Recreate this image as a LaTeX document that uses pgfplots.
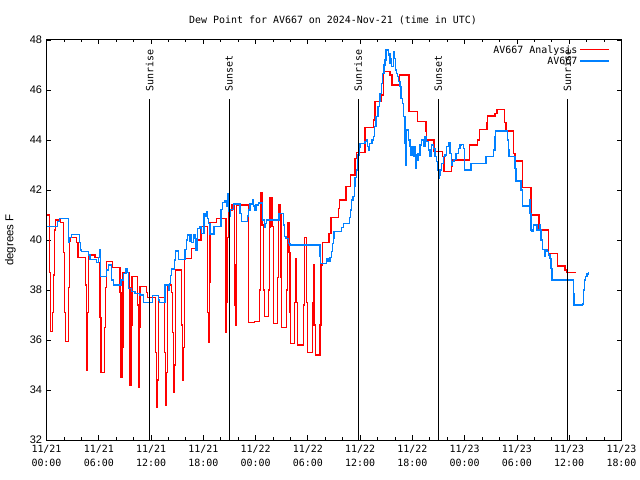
\documentclass[border=0pt]{standalone}
\usepackage{fontspec}
\setmainfont{DejaVu Sans Mono}
\newfontfamily\sansf{Liberation Sans}
\usepackage{pgfplots}
\pgfplotsset{compat=1.18}
\definecolor{anared}{RGB}{255,0,0}
\definecolor{obsblue}{RGB}{0,128,255}
\begin{document}
\begin{tikzpicture}
\path[use as bounding box] (0,0) rectangle (640bp,480bp);
\begin{axis}[
  at={(46.5bp,40bp)}, anchor=south west,
  scale only axis, width=575bp, height=400bp,
  xmin=0, xmax=66, ymin=32, ymax=48,
  xtick={0,6,...,66},
  xticklabels={11/21\\00:00,11/21\\06:00,11/21\\12:00,11/21\\18:00,11/22\\00:00,11/22\\06:00,11/22\\12:00,11/22\\18:00,11/23\\00:00,11/23\\06:00,11/23\\12:00,11/23\\18:00},
  minor x tick num=2,
  ytick={32,34,...,48},
  tick align=inside,
  major tick length=4.5bp, minor tick length=2.5bp,
  every tick/.style={black, line width=0.8bp},
  axis line style={black, line width=1bp},
  xticklabel style={align=center, font=\fontsize{10}{13.5}\selectfont, yshift=-2bp},
  yticklabel style={font=\sansf\fontsize{11}{13}\selectfont, xshift=-1bp},
  /pgf/number format/assume math mode=true,
  legend plot pos=right,
  legend cell align=right,
  legend style={at={(0.98,0.992)}, anchor=north east, draw=none, fill=none,
    font=\fontsize{10}{12}\selectfont, row sep=-1.5bp, inner sep=0bp},
  legend image code/.code={\draw[#1] (7bp,0.5bp) -- (36bp,0.5bp);},
]
\addplot[anared, line width=1.4bp, const plot] coordinates {
(0,41.0) (0.32,38.7) (0.44,36.35) (0.67,37.1) (0.78,38.6) (0.9,40.4) (1.01,40.8) (1.6,40.7)
(1.93,39.5) (2.05,37.1) (2.16,35.95) (2.5,38.1) (2.62,39.95) (2.78,40.1) (3.46,39.9) (3.62,39.3)
(4.5,38.2) (4.61,34.8) (4.72,37.1) (4.84,39.4) (5.57,39.3) (5.95,39.1) (6.14,36.9) (6.26,34.7)
(6.64,36.5) (6.76,38.1) (6.91,39.15) (7.6,38.9) (8.44,37.9) (8.55,34.5) (8.67,35.7) (8.78,38.7)
(9.51,38.1) (9.59,34.2) (9.74,36.6) (9.82,38.55) (10.47,37.4) (10.58,34.1) (10.66,36.5) (10.73,38.15)
(11.5,37.9) (11.6,37.7) (12.53,35.5) (12.65,33.3) (12.76,34.4) (12.84,37.7) (13.53,35.5) (13.64,33.4)
(13.76,34.7) (13.87,38.2) (14.37,37.9) (14.49,36.3) (14.6,33.9) (14.68,35.0) (14.79,38.8) (15.52,36.6)
(15.6,34.4) (15.71,35.7) (15.82,39.25) (16.67,39.65) (17.24,40.0) (17.74,40.55) (18.5,37.1) (18.62,35.9)
(18.69,38.3) (18.77,40.7) (19.54,40.85) (20.61,36.3) (20.69,37.5) (20.8,40.1) (20.88,41.2) (21.3,41.4)
(21.56,37.4) (21.68,36.6) (21.76,39.0) (21.84,41.4) (23.21,36.7) (23.86,36.75) (24.43,38.0) (24.55,40.6)
(24.63,41.9) (24.82,40.6) (24.89,38.0) (25.01,36.95) (25.51,38.0) (25.58,40.5) (25.66,41.7) (25.89,40.55)
(26.04,36.65) (26.54,38.5) (26.62,41.4) (26.81,41.05) (26.92,38.5) (27.0,36.5) (27.58,38.0) (27.69,40.7)
(27.84,39.5) (27.96,37.1) (28.03,35.85) (28.45,37.5) (28.61,39.25) (28.68,37.5) (28.84,35.8) (29.49,37.4)
(29.6,40.1) (29.87,37.5) (29.99,35.5) (30.52,37.5) (30.63,39.0) (30.71,36.6) (30.86,35.4) (31.4,36.6)
(31.52,39.0) (31.67,39.9) (32.43,40.25) (32.66,40.9) (33.5,41.25) (33.62,41.6) (34.4,42.15) (34.9,42.6)
(35.42,43.27) (35.61,43.5) (36.57,44.5) (37.52,44.8) (37.72,45.55) (38.48,45.8) (38.67,46.73) (39.44,46.6)
(39.67,46.2) (40.51,46.6) (41.62,45.15) (42.57,44.75) (43.57,44.35) (43.65,44.0) (44.5,43.55) (45.45,43.33)
(45.64,42.75) (46.52,42.93) (46.63,43.2) (48.54,43.8) (49.46,44.0) (49.69,44.43) (50.54,44.7) (50.61,44.96)
(51.49,45.07) (51.69,45.23) (52.56,44.7) (52.76,44.36) (53.6,43.47) (53.79,43.16) (54.63,42.1) (55.63,41.0)
(56.54,40.4) (57.61,39.47) (58.64,38.96) (59.53,38.8) (59.72,38.7) (60.76,38.7)
};
\addlegendentry{AV667 Analysis}
\addplot[obsblue, line width=1.4bp, const plot] coordinates {
(0,40.55) (1.24,40.75) (1.47,40.87) (2.5,39.9) (2.62,40.1) (2.89,40.23) (3.77,39.9) (3.92,39.6)
(4.0,39.53) (4.8,39.4) (4.99,39.23) (5.76,39.1) (6.0,39.3) (6.07,39.6) (6.22,38.53) (6.91,38.8)
(7.1,39.0) (7.48,38.4) (7.67,38.2) (8.55,38.4) (8.82,38.67) (9.13,38.85) (9.3,38.7) (9.4,38.07)
(9.78,37.95) (10.16,37.87) (10.73,37.8) (11.12,37.5) (12.19,37.77) (12.84,37.6) (12.95,37.5) (13.6,38.2)
(13.99,38.0) (14.1,38.25) (14.26,38.57) (14.37,38.84) (14.68,39.2) (14.79,39.56) (15.05,39.56) (15.14,39.23)
(15.9,39.63) (16.1,40.0) (16.21,40.2) (16.4,39.95) (16.55,40.2) (16.67,39.9) (16.85,40.2) (17.05,40.07)
(17.16,39.6) (17.32,40.47) (17.6,40.53) (17.82,40.27) (18.08,41.07) (18.2,40.93) (18.39,41.13) (18.5,40.87)
(18.58,40.67) (18.77,40.24) (19.23,40.53) (20.03,41.23) (20.22,41.49) (20.49,41.57) (20.7,41.36) (20.8,41.84)
(20.92,41.13) (21.0,40.96) (21.07,41.23) (21.45,41.44) (22.2,41.07) (22.35,40.75) (23.05,40.96) (23.2,41.2)
(23.36,41.44) (23.63,41.63) (23.75,41.36) (23.86,41.2) (24.05,41.4) (24.32,41.48) (24.82,40.8) (25.01,40.51)
(25.15,40.67) (25.28,40.8) (26.69,41.07) (27.19,40.6) (27.31,40.13) (27.5,40.07) (27.77,39.87) (27.96,39.8)
(31.4,39.33) (31.48,39.07) (32.17,39.27) (32.3,39.13) (32.55,39.31) (32.74,39.53) (32.86,39.87) (32.93,40.07)
(33.01,40.33) (33.89,40.5) (34.08,40.67) (34.77,40.9) (34.92,41.2) (35.04,41.6) (35.2,41.75) (35.35,42.13)
(35.42,42.5) (35.61,42.8) (35.73,43.4) (35.85,43.7) (36.0,43.87) (36.57,43.93) (36.7,44.0) (36.85,43.73)
(36.96,43.6) (37.1,43.87) (37.34,44.0) (37.5,44.13) (37.64,44.53) (37.8,44.93) (38.03,45.33) (38.22,45.53)
(38.3,45.87) (38.48,46.27) (38.6,46.67) (38.75,47.0) (38.87,47.2) (38.98,47.6) (39.14,47.63) (39.25,47.4)
(39.35,47.47) (39.44,47.07) (39.52,47.27) (39.63,46.93) (39.82,47.53) (39.93,47.27) (40.05,46.8) (40.2,46.67)
(40.3,46.53) (40.43,46.33) (40.59,46.13) (40.7,45.67) (40.88,45.47) (40.97,44.93) (41.16,43.87) (41.27,43.0)
(41.35,44.4) (41.53,44.0) (41.73,43.73) (41.85,43.4) (41.95,43.73) (42.11,43.33) (42.22,43.73) (42.33,43.4)
(42.42,42.87) (42.5,43.2) (42.62,43.47) (42.73,43.4) (42.88,43.8) (43.07,44.0) (43.27,43.73) (43.46,44.13)
(43.65,43.93) (43.84,43.6) (44.03,43.33) (44.22,43.8) (44.41,43.67) (44.6,43.33) (44.79,43.13) (44.87,42.8)
(44.98,42.47) (45.1,42.6) (45.17,42.8) (45.36,43.07) (45.55,43.33) (45.75,43.4) (45.94,43.73) (46.13,43.9)
(46.32,43.47) (46.51,43.0) (46.6,43.13) (46.78,43.23) (47.0,43.47) (47.28,43.67) (47.45,43.8) (47.66,43.83)
(47.85,43.67) (47.97,42.8) (48.73,43.07) (50.46,43.33) (51.3,43.6) (51.49,44.13) (51.57,44.36) (52.91,44.0)
(53.0,43.6) (53.1,43.33) (53.79,42.87) (53.9,42.36) (54.48,42.0) (54.67,41.36) (55.44,41.6) (55.5,41.07)
(55.59,40.4) (55.75,40.33) (55.9,40.6) (56.28,40.4) (56.59,40.6) (56.7,40.4) (56.78,40.0) (56.9,39.63)
(57.16,39.36) (57.27,39.6) (57.43,39.53) (57.6,39.4) (57.81,39.27) (57.93,38.87) (58.0,38.4) (60.38,38.4)
(60.5,37.87) (60.57,37.4) (61.53,37.44) (61.64,38.0) (61.72,38.4) (61.84,38.53) (62.03,38.64) (62.22,38.7)
};
\addlegendentry{AV667}
% sunrise / sunset markers
\addplot[black, line width=0.9bp, forget plot] coordinates {(11.85,32) (11.85,45.63)};
\addplot[black, line width=0.9bp, forget plot] coordinates {(20.95,32) (20.95,45.63)};
\addplot[black, line width=0.9bp, forget plot] coordinates {(35.76,32) (35.76,45.63)};
\addplot[black, line width=0.9bp, forget plot] coordinates {(44.98,32) (44.98,45.63)};
\addplot[black, line width=0.9bp, forget plot] coordinates {(59.78,32) (59.78,45.63)};
\node[rotate=90, anchor=west, inner sep=0pt, font=\fontsize{10}{12}\selectfont] at (axis cs:11.85,45.93) {Sunrise};
\node[rotate=90, anchor=west, inner sep=0pt, font=\fontsize{10}{12}\selectfont] at (axis cs:20.95,45.93) {Sunset};
\node[rotate=90, anchor=west, inner sep=0pt, font=\fontsize{10}{12}\selectfont] at (axis cs:35.76,45.93) {Sunrise};
\node[rotate=90, anchor=west, inner sep=0pt, font=\fontsize{10}{12}\selectfont] at (axis cs:44.98,45.93) {Sunset};
\node[rotate=90, anchor=west, inner sep=0pt, font=\fontsize{10}{12}\selectfont] at (axis cs:59.78,45.93) {Sunrise};
\end{axis}
\node[font=\fontsize{10}{12}\selectfont] at (333bp,460bp) {Dew Point for AV667 on 2024-Nov-21 (time in UTC)};
\node[rotate=90, font=\sansf\fontsize{11.5}{13}\selectfont] at (10.5bp,240bp) {degrees F};
\end{tikzpicture}
\end{document}
